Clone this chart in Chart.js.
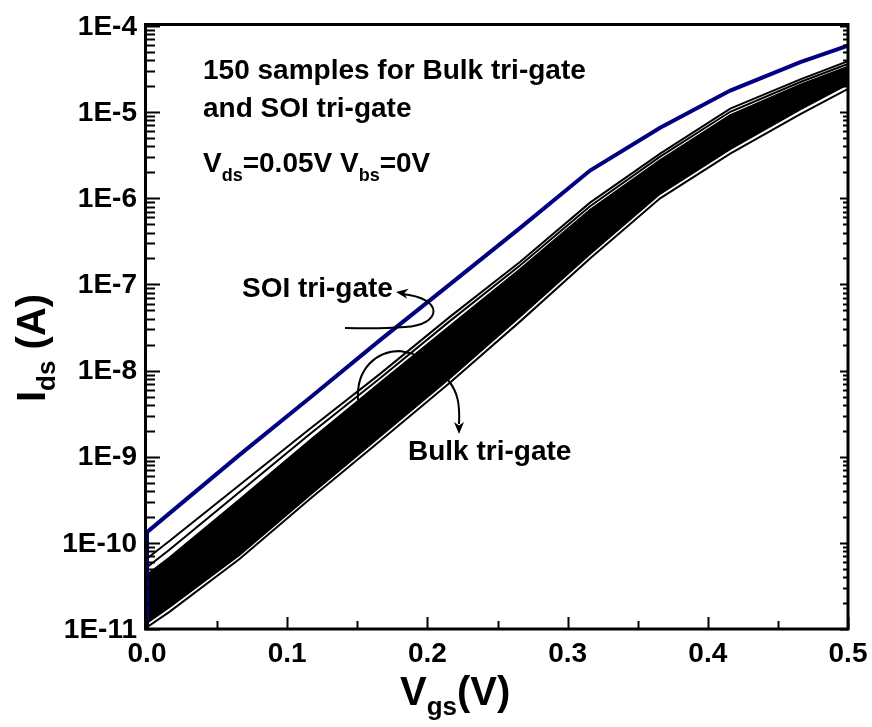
<!DOCTYPE html>
<html>
<head>
<meta charset="utf-8">
<script src="https://cdn.jsdelivr.net/npm/chart.js@4.4.1/dist/chart.umd.min.js"></script>
<style>
  html, body { margin: 0; padding: 0; background: #fff; }
  #wrap { width: 872px; height: 727px; }
</style>
</head>
<body>
<div id="wrap"><canvas id="ivChart" width="872" height="727"></canvas></div>
<script>
// gate voltage points (V)
const vgs = [0, 0.016, 0.066, 0.116, 0.166, 0.216, 0.266, 0.316, 0.366, 0.416, 0.466, 0.5];

// SOI tri-gate drain current (A); first entry is the vertical rise at Vgs=0
const soiStart = 1e-11;
const soiIds = [1.33e-10, 2.2e-10, 1.05e-9, 4.8e-9, 2.24e-8, 1.0e-7, 4.5e-7, 2.1e-6, 6.6e-6, 1.78e-5, 3.8e-5, 5.9e-5];

// bulk tri-gate spread: two upper outliers, the dense band, the lowest sample
const bulkUpper1 = [6.6e-11, 1.05e-10, 4.7e-10, 2.1e-9, 9.1e-9, 4.2e-8, 1.82e-7, 8.9e-7, 3.3e-6, 1.1e-5, 2.4e-5, 3.9e-5];
const bulkUpper2 = [5.2e-11, 8.3e-11, 3.9e-10, 1.82e-9, 8.1e-9, 3.75e-8, 1.66e-7, 8.1e-7, 3.05e-6, 1.01e-5, 2.24e-5, 3.63e-5];
const bandTop    = [4.3e-11, 6.8e-11, 3.2e-10, 1.55e-9, 7.2e-9, 3.3e-8, 1.51e-7, 7.4e-7, 2.8e-6, 9.3e-6, 2.1e-5, 3.4e-5];
const bandBottom = [1.17e-11, 1.78e-11, 7.2e-11, 3.55e-10, 1.7e-9, 8.1e-9, 4.2e-8, 2.24e-7, 1.12e-6, 3.7e-6, 1.07e-5, 2.1e-5];
const bulkLowest = [1.05e-11, 1.58e-11, 6.5e-11, 3.2e-10, 1.51e-9, 7.2e-9, 3.7e-8, 2.0e-7, 1.0e-6, 3.3e-6, 9.5e-6, 1.86e-5];

const xTicks = [0, 0.1, 0.2, 0.3, 0.4, 0.5];
const xTickLabels = ['0.0', '0.1', '0.2', '0.3', '0.4', '0.5'];
const yTicks = [1e-11, 1e-10, 1e-9, 1e-8, 1e-7, 1e-6, 1e-5, 1e-4];
const yTickLabels = ['1E-11', '1E-10', '1E-9', '1E-8', '1E-7', '1E-6', '1E-5', '1E-4'];

const FONT = '"Liberation Sans", Arial, Helvetica, sans-serif';

function pts(ys) {
  return vgs.map((v, i) => ({ x: v, y: ys[i] }));
}

function line(ys, width, extra) {
  return Object.assign({
    data: pts(ys),
    borderColor: '#000',
    borderWidth: width,
    pointRadius: 0,
    fill: false,
    clip: 0
  }, extra || {});
}

const soiData = [{ x: 0, y: soiStart }].concat(pts(soiIds));

// text with a lowered subscript part
function subText(ctx, parts, x, y) {
  parts.forEach(p => {
    ctx.font = 'bold ' + p.size + 'px ' + FONT;
    ctx.fillText(p.t, x, y + (p.dy || 0));
    x += ctx.measureText(p.t).width;
  });
}

function arrowHead(ctx, tipX, tipY, angle, len, half) {
  ctx.save();
  ctx.translate(tipX, tipY);
  ctx.rotate(angle);
  ctx.beginPath();
  ctx.moveTo(0, 0);
  ctx.lineTo(len, -half);
  ctx.lineTo(len * 0.7, 0);
  ctx.lineTo(len, half);
  ctx.closePath();
  ctx.fill();
  ctx.restore();
}

const framePlugin = {
  id: 'frame',
  afterDraw(chart) {
    const ctx = chart.ctx;
    const a = chart.chartArea;
    const xs = chart.scales.x;
    const ys = chart.scales.y;
    ctx.save();
    ctx.strokeStyle = '#000';
    ctx.fillStyle = '#000';

    // axis box
    ctx.lineWidth = 3;
    ctx.beginPath();
    ctx.moveTo(a.left - 1.5, a.top - 1.5);
    ctx.lineTo(a.right, a.top - 1.5);
    ctx.lineTo(a.right, a.bottom);
    ctx.lineTo(a.left - 1.5, a.bottom);
    ctx.closePath();
    ctx.stroke();

    // y ticks, decades and minors, on both sides
    ctx.lineWidth = 2;
    yTicks.forEach((d, i) => {
      for (let m = 1; m <= 9; m++) {
        const v = d * m;
        if (v > 1e-4 * 1.0001) break;
        const py = Math.round(ys.getPixelForValue(v)) + 0.5;
        const major = m === 1;
        ctx.beginPath();
        ctx.moveTo(a.left - 1, py);
        ctx.lineTo(a.left + (major ? 13 : 8), py);
        ctx.moveTo(a.right, py);
        ctx.lineTo(a.right - (major ? 8 : 5), py);
        ctx.stroke();
      }
    });

    // x ticks every 0.05
    for (let k = 0; k <= 10; k++) {
      const px = Math.round(xs.getPixelForValue(k * 0.05)) + 0.5;
      const major = k % 2 === 0;
      ctx.beginPath();
      ctx.moveTo(px, a.bottom);
      ctx.lineTo(px, a.bottom - (major ? 12 : 8));
      ctx.stroke();
    }

    // tick labels
    ctx.font = 'bold 28px ' + FONT;
    ctx.textAlign = 'right';
    ctx.textBaseline = 'middle';
    yTicks.forEach((v, i) => {
      ctx.fillText(yTickLabels[i], a.left - 10, ys.getPixelForValue(v) + 1);
    });
    ctx.textAlign = 'center';
    ctx.textBaseline = 'alphabetic';
    xTicks.forEach((v, i) => {
      ctx.fillText(xTickLabels[i], xs.getPixelForValue(v), a.bottom + 33);
    });

    // axis titles
    ctx.textAlign = 'left';
    subText(ctx, [
      { t: 'V', size: 40 },
      { t: 'gs', size: 26, dy: 10 },
      { t: '(V)', size: 40 }
    ], 400, 705);

    ctx.save();
    ctx.translate(45, 402);
    ctx.rotate(-Math.PI / 2);
    subText(ctx, [
      { t: 'I', size: 40 },
      { t: 'ds', size: 26, dy: 10 },
      { t: ' (A)', size: 40 }
    ], 0, 0);
    ctx.restore();

    // annotations
    ctx.font = 'bold 28px ' + FONT;
    ctx.fillText('150 samples for Bulk tri-gate', 203, 79);
    ctx.fillText('and SOI tri-gate', 203, 117);
    subText(ctx, [
      { t: 'V', size: 28 },
      { t: 'ds', size: 18, dy: 9 },
      { t: '=0.05V V', size: 28 },
      { t: 'bs', size: 18, dy: 9 },
      { t: '=0V', size: 28 }
    ], 203, 172);
    ctx.font = 'bold 28px ' + FONT;
    ctx.fillText('SOI tri-gate', 242, 297);
    ctx.fillText('Bulk tri-gate', 408, 460);

    // callout for the SOI curve
    ctx.lineWidth = 2;
    ctx.beginPath();
    ctx.moveTo(402, 294);
    ctx.bezierCurveTo(445, 298, 442, 325, 405, 327);
    ctx.quadraticCurveTo(380, 329, 345, 328);
    ctx.stroke();
    arrowHead(ctx, 396, 292, 0.15, 12, 5);

    // callout loop around the bulk band and arrow to its label
    ctx.beginPath();
    ctx.moveTo(358, 400);
    ctx.bezierCurveTo(356, 368, 377, 351, 400, 351);
    ctx.lineTo(414, 354);
    ctx.stroke();
    ctx.beginPath();
    ctx.moveTo(448, 380);
    ctx.bezierCurveTo(458, 392, 460, 405, 459, 424);
    ctx.stroke();
    arrowHead(ctx, 459, 434, -Math.PI / 2, 12, 5);

    ctx.restore();
  }
};

new Chart(document.getElementById('ivChart'), {
  type: 'line',
  data: {
    datasets: [
      { data: soiData, borderColor: '#000080', borderWidth: 4, pointRadius: 0, fill: false, clip: 0 },
      line(bulkUpper1, 2),
      line(bulkUpper2, 2),
      line(bandTop, 1.5, { fill: '+1', backgroundColor: '#000' }),
      line(bandBottom, 1.5),
      line(bulkLowest, 2)
    ]
  },
  options: {
    responsive: false,
    animation: false,
    events: [],
    layout: { padding: { left: 147, right: 24, top: 26, bottom: 98 } },
    elements: { line: { tension: 0 } },
    scales: {
      x: { type: 'linear', min: 0, max: 0.5, display: false },
      y: { type: 'logarithmic', min: 1e-11, max: 1e-4, display: false }
    },
    plugins: {
      legend: { display: false },
      tooltip: { enabled: false }
    }
  },
  plugins: [framePlugin]
});
</script>
</body>
</html>
